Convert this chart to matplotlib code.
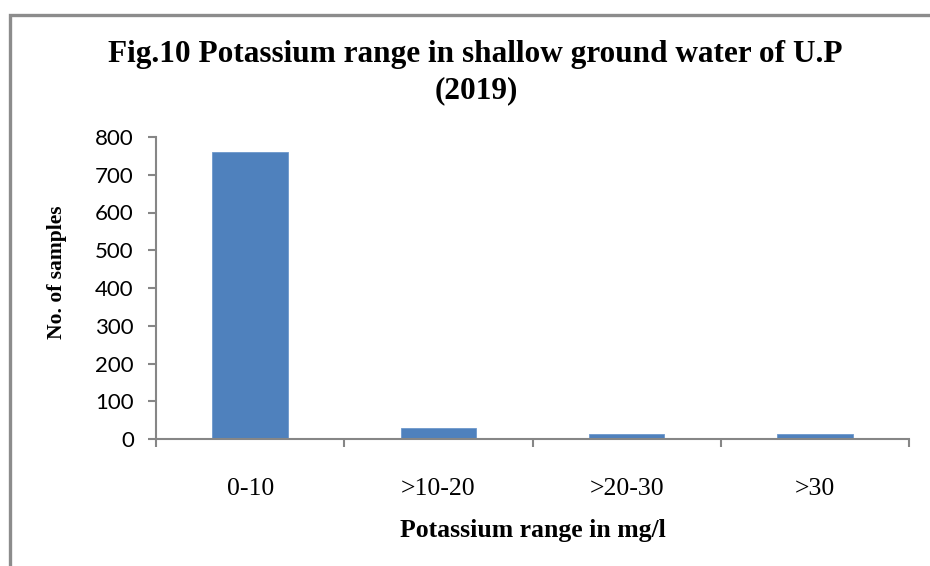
import matplotlib

matplotlib.use("Agg")
import matplotlib.pyplot as plt
import numpy as np
from matplotlib.patches import Rectangle

CATEGORIES = ["0-10", ">10-20", ">20-30", ">30"]
SAMPLES = [760, 29, 14, 12]
Y_TICKS = [0, 100, 200, 300, 400, 500, 600, 700, 800]

BAR_COLOR = "#4F81BD"
AXIS_COLOR = "#868686"
W, H = 930, 566

fig = plt.figure(figsize=(W / 100, H / 100), dpi=100)
ax = fig.add_axes([156 / W, 1 - 439 / H, 753 / W, 302 / H])

# outer frame (partly cropped in the original)
fig.patches.append(Rectangle((10 / W, -0.1), 1.2, 1 - 14.5 / H + 0.1, transform=fig.transFigure,
                             fill=False, edgecolor="#8c8c8c", linewidth=2.4))

x = np.arange(len(CATEGORIES))
ax.bar(x, SAMPLES, width=0.4, color=BAR_COLOR, edgecolor="#6d98cc", linewidth=0.6, zorder=2)

ax.set_xlim(-0.5, len(CATEGORIES) - 0.5)
ax.set_ylim(0, 800)
ax.set_yticks(Y_TICKS)
ax.set_yticklabels([str(v) for v in Y_TICKS], fontfamily="Lato", fontsize=16)
ax.set_xticks(x)
ax.set_xticklabels(CATEGORIES, fontfamily="Liberation Serif", fontsize=18.5)
ax.set_xticks(np.arange(len(CATEGORIES) + 1) - 0.5, minor=True)
ax.tick_params(axis="x", which="major", length=0, pad=28)
ax.tick_params(axis="x", which="minor", length=6, color=AXIS_COLOR, width=1.5)
ax.tick_params(axis="y", length=6, color=AXIS_COLOR, width=1.5, pad=10)

for side in ("top", "right"):
    ax.spines[side].set_visible(False)
for side in ("left", "bottom"):
    ax.spines[side].set_color(AXIS_COLOR)
    ax.spines[side].set_linewidth(1.5)

ax.set_xlabel("Potassium range in mg/l", fontfamily="Liberation Serif", fontweight="bold",
              fontsize=18.5, va="center")
ax.xaxis.set_label_coords(0.5, -(530 - 439) / 302)
ax.set_ylabel("No. of samples", fontfamily="Liberation Serif", fontweight="bold",
              fontsize=15.5, va="center")
ax.yaxis.set_label_coords(-(156 - 57) / 753, (439 - 272) / 302)

fig.text(475 / W, 1 - 62 / H, "Fig.10 Potassium range in shallow ground water of U.P",
         ha="center", va="baseline", fontfamily="Liberation Serif", fontweight="bold",
         fontsize=22.5)
fig.text(476 / W, 1 - 98 / H, "(2019)",
         ha="center", va="baseline", fontfamily="Liberation Serif", fontweight="bold",
         fontsize=22.5)

fig.savefig("out.png", dpi=100)
plt.close(fig)
